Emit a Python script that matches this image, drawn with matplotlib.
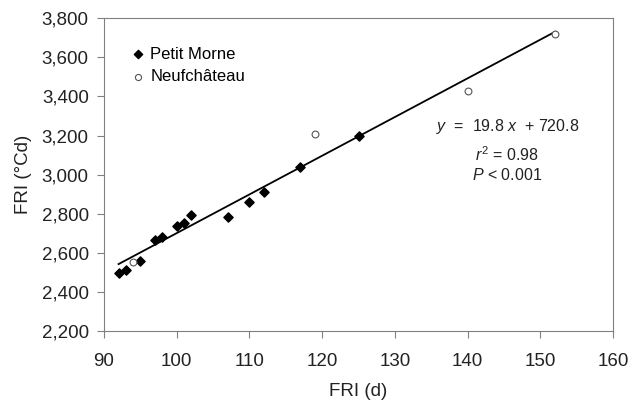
import numpy as np
import matplotlib
matplotlib.use('Agg')
import matplotlib.pyplot as plt
from matplotlib.ticker import FuncFormatter

plt.rcParams['font.family'] = ['Liberation Sans', 'DejaVu Sans']
plt.rcParams['mathtext.fontset'] = 'custom'
plt.rcParams['mathtext.rm'] = 'Liberation Sans'
plt.rcParams['mathtext.it'] = 'Liberation Sans:italic'

# Petit Morne
pm_x = [92, 93, 95, 97, 98, 100, 101, 102, 107, 110, 112, 117, 125]
pm_y = [2495, 2513, 2556, 2667, 2683, 2738, 2755, 2794, 2783, 2859, 2910, 3041, 3198]

# Neufchateau
nf_x = [94, 119, 140, 152]
nf_y = [2551, 3207, 3430, 3718]

slope = 19.8
intercept = 720.8
fit_x = [92, 152]

fig = plt.figure(figsize=(6.32, 4.03), dpi=100)
ax = fig.add_axes([104/632, 1 - 331/403, (613-104)/632, (331-18.3)/403])

ax.scatter(pm_x, pm_y, marker='D', s=22, color='black', zorder=3, label='Petit Morne')
ax.scatter(nf_x, nf_y, marker='o', s=24, facecolor='white', edgecolor='#555555',
           linewidth=0.8, zorder=3, label='Neufch\u00e2teau')
fx = np.array(fit_x)
ax.plot(fx, slope * fx + intercept, color='black', linewidth=1.3, zorder=2)

ax.set_xlim(90, 160)
ax.set_ylim(2200, 3800)
ax.set_xticks(range(90, 161, 10))
ax.set_yticks(range(2200, 3801, 200))
ax.yaxis.set_major_formatter(FuncFormatter(lambda v, p: f'{int(v):,}'))

for s in ax.spines.values():
    s.set_color('#808080')
ax.tick_params(direction='out', length=5, color='#808080', labelsize=13.5,
               labelcolor='#222222')
ax.tick_params(axis='x', pad=11)
ax.tick_params(axis='y', pad=6)
ax.set_xlabel('FRI (d)', fontsize=13.5, color='#222222', labelpad=9)
ax.set_ylabel('FRI (\u00b0Cd)', fontsize=13.5, color='#222222', labelpad=7)

ax.legend(loc='upper left', bbox_to_anchor=(0.035, 0.93), frameon=False, fontsize=12,
          handletextpad=0.1, labelspacing=0.45, borderaxespad=0, handlelength=1.2,
          markerscale=0.9)

ax.text(135.6, 3244, '$y$  =  19.8 $x$  + 720.8', fontsize=11.5, ha='left', va='center',
        color='#222222')
ax.text(145.4, 3101, '$r^2$ = 0.98', fontsize=11.5, ha='center', va='center', color='#222222')
ax.text(145.4, 2999, '$P$ < 0.001', fontsize=11.5, ha='center', va='center', color='#222222')

fig.savefig('out.png', dpi=100)
